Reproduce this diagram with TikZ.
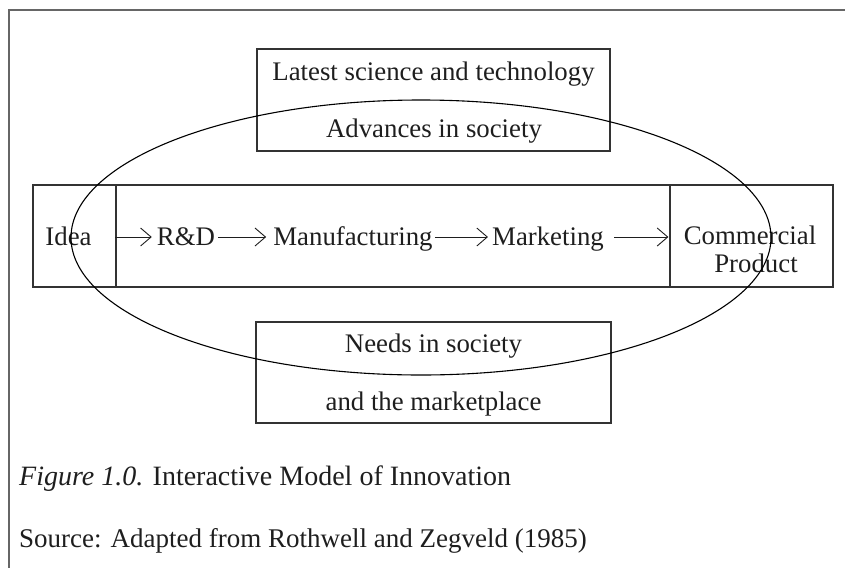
\documentclass[tikz,border=0pt]{standalone}
\usepackage{fontspec}
\setmainfont{Liberation Serif}
\usetikzlibrary{arrows.meta}
\definecolor{ink}{HTML}{1E1E1E}
\definecolor{boxline}{HTML}{333333}
\definecolor{framegray}{HTML}{666666}
\begin{document}
\begin{tikzpicture}[x=1pt,y=-1pt,
  txt/.style={inner sep=0pt, anchor=base, text=ink,
              font=\fontsize{26.8}{31}\selectfont},
  captxt/.style={txt, anchor=base west, font=\fontsize{28}{32}\selectfont},
  cell/.style={draw=boxline, line width=1.2pt, inner sep=0pt},
  flow/.style={draw=ink, line width=0.9pt,
               -{Straight Barb[length=10.5pt,width=18pt,line width=0.9pt]}},
  ring/.style={draw=black, line width=1.1pt},
  framing/.style={draw=framegray, line width=2pt}]
\useasboundingbox (0,0) rectangle (845,568);

% open frame along the top and the left side
\draw[framing] (845,9.5) -- (9,9.5) -- (9,568);

% boxes above and below the process chain
\node[cell, minimum width=353pt, minimum height=102pt] (topbox) at (433.5,100) {};
\node[cell, minimum width=355pt, minimum height=101pt] (botbox) at (433.5,372.5) {};

% the process chain, split into three cells
\node[cell, minimum width=83pt,  minimum height=102pt] (ideacell) at (74.5,236) {};
\node[cell, minimum width=554pt, minimum height=102pt] (mid)      at (393,236)  {};
\node[cell, minimum width=163pt, minimum height=102pt] (prodcell) at (751.5,236) {};

% texts
\node[txt] (t1) at (433.5,80)  {Latest science and technology};
\node[txt] (t2) at (434,137)   {Advances in society};
\node[txt] (b1) at (433.5,352) {Needs in society};
\node[txt] (b2) at (433.5,410) {and the marketplace};

\node[txt] (idea) at (68.5,245) {Idea};
\node[txt] (rd)   at (186,245)  {R\&D};
\node[txt] (manu) at (353,245)  {Manufacturing};
\node[txt] (mkt)  at (548,245)  {Marketing};
\node[txt] (com)  at (750,244)  {Commercial};
\node[txt] (prod) at (756,272)  {Product};

% flow arrows
\coordinate (ax) at (0,237);
\draw[flow, shorten >=5pt] (mid.west |- ax) -- (rd.west |- ax);
\draw[flow, shorten <=3pt, shorten >=7pt] (rd.east |- ax) -- (manu.west |- ax);
\draw[flow, shorten <=2pt, shorten >=4pt] (manu.east |- ax) -- (mkt.west |- ax);
\draw[flow, shorten <=10pt, shorten >=1pt] (mkt.east |- ax) -- (prodcell.west |- ax);

% the interaction loop
\draw[ring] (421,237.5) ellipse [x radius=350, y radius=137.5];

% caption and source
\node[captxt] (cap) at (19,485)
  {\textit{Figure 1.0.} Interactive Model of Innovation};
\node[captxt, font=\fontsize{27}{31}\selectfont] (src) at (19,547)
  {Source: Adapted from Rothwell and Zegveld (1985)};
\end{tikzpicture}
\end{document}
